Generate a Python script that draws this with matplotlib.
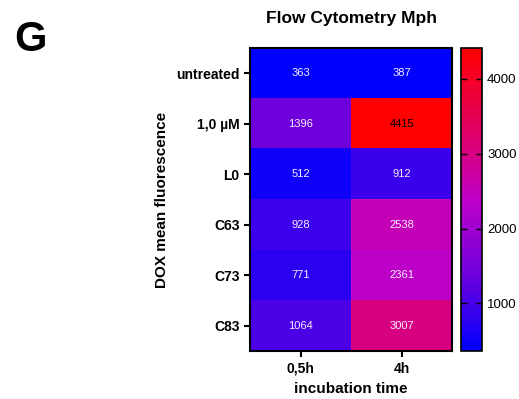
import numpy as np
import matplotlib
matplotlib.use("Agg")
import matplotlib.pyplot as plt
from matplotlib.colors import LinearSegmentedColormap

plt.rcParams['font.family'] = ['Liberation Sans', 'DejaVu Sans']

rows = ["untreated", "1,0 µM", "L0", "C63", "C73", "C83"]
cols = ["0,5h", "4h"]
vals_05h = [363, 1396, 512, 928, 771, 1064]
vals_4h = [387, 4415, 912, 2538, 2361, 3007]

data = np.array([vals_05h, vals_4h]).T
# blue -> purple -> magenta -> red, as in the GraphPad palette
cmap = LinearSegmentedColormap.from_list(
    "br",
    [(0.0, "#0000ff"), (0.25, "#6e00dc"), (0.5, "#be00c8"),
     (0.65, "#d70082"), (1.0, "#ff0000")])

fig = plt.figure(figsize=(5.19, 3.99), dpi=100)
ax = fig.add_axes([0.482, 0.120, 0.389, 0.760])
cax = fig.add_axes([0.888, 0.120, 0.041, 0.760])

vmin, vmax = data.min(), data.max()
im = ax.imshow(data, cmap=cmap, vmin=vmin, vmax=vmax, aspect='auto')

for i in range(data.shape[0]):
    for j in range(data.shape[1]):
        v = data[i, j]
        c = 'black' if v == vmax else '#f4f0ff'
        ax.text(j, i, str(v), ha='center', va='center', fontsize=8, color=c)

ax.set_xticks(range(len(cols)))
ax.set_xticklabels(cols, fontsize=10, fontweight='bold')
ax.set_yticks(range(len(rows)))
ax.set_yticklabels(rows, fontsize=10, fontweight='bold')
ax.tick_params(length=4, width=1.5)
for s in ax.spines.values():
    s.set_linewidth(1.5)
ax.set_xlabel("incubation time", fontsize=11, fontweight='bold', labelpad=5)
ax.set_ylabel("DOX mean fluorescence", fontsize=11, fontweight='bold', labelpad=5)
ax.set_title("Flow Cytometry Mph", fontsize=12.5, fontweight='bold', pad=18)

cb = fig.colorbar(im, cax=cax)
cb.set_ticks([1000, 2000, 3000, 4000])
cb.ax.tick_params(labelsize=9.5, direction='in', length=4, width=1,
                  left=True, right=True)
cb.outline.set_linewidth(1.2)

fig.text(0.028, 1 - 20 / 399, "G", fontsize=30, fontweight='bold', va='top')

fig.savefig("out.png", dpi=100)
